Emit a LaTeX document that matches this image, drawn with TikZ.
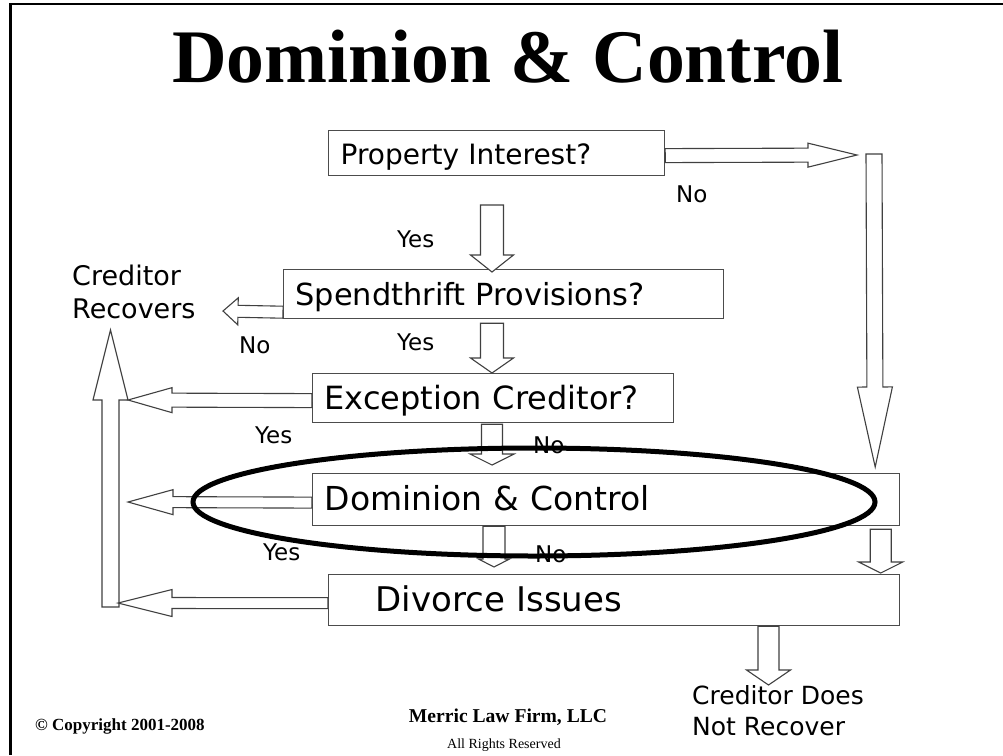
\documentclass[tikz,border=0pt]{standalone}
\usepackage{fontspec}
\usepackage{graphicx}
\setmainfont{DejaVu Sans}
\newfontfamily\serifface{Liberation Serif}
\usetikzlibrary{calc}

% hollow block arrow: tail, tip, shaft width, head width, head length (all in px)
\newcommand\blockarrow[5]{%
  \path let \p1=(#1), \p2=(#2) in \pgfextra{%
    \pgfmathsetmacro\baAngle{atan2(\y2-\y1,\x2-\x1)}%
    \pgfmathsetmacro\baLen{veclen(\x2-\x1,\y2-\y1)}%
    \xdef\baAngle{\baAngle}\xdef\baLen{\baLen}%
    \xdef\baX{\x1}\xdef\baY{\y1}};
  \draw[hollowarrow, shift={(\baX,\baY)}, rotate=\baAngle]
    (0pt,{#3pt/2}) -- ({\baLen pt-#5pt},{#3pt/2}) -- ({\baLen pt-#5pt},{#4pt/2})
    -- ({\baLen pt},0pt) -- ({\baLen pt-#5pt},{-#4pt/2}) -- ({\baLen pt-#5pt},{-#3pt/2})
    -- (0pt,{-#3pt/2}) -- cycle;
}

\begin{document}
\begin{tikzpicture}[x=1pt,y=-1pt,
  flowbox/.style={draw=black!70, line width=1.2pt, fill=white, rectangle,
    inner xsep=12pt, inner ysep=0pt, align=left, text height=22pt,
    text depth=0pt, anchor=north west},
  answer/.style={font=\fontsize{23pt}{23pt}\selectfont, inner sep=0pt, anchor=base west},
  outcome/.style={inner sep=0pt, anchor=base west, align=left},
  hollowarrow/.style={draw=black!75, line width=1.1pt, fill=white, line join=miter},
  ring/.style={draw=black, line width=5pt},
]
\useasboundingbox (0,0) rectangle (1003,755);
\fill[white] (0,0) rectangle (1003,755);
\draw[line width=2.5pt] (10.5,755) -- (10.5,4) -- (1003,4);

% title
\node[anchor=base west, inner sep=0pt] (title) at (172,82)
  {\resizebox{671pt}{!}{\serifface\bfseries\fontsize{75pt}{75pt}\selectfont Dominion \& Control}};

% decision boxes
\node[flowbox, text width=312pt, minimum height=45pt, font=\fontsize{28pt}{28pt}\selectfont]
  (prop) at (328,130) {Property Interest?};
\node[flowbox, text width=416pt, minimum height=49pt, font=\fontsize{30.4pt}{30pt}\selectfont]
  (spend) at (283,269) {Spendthrift Provisions?};
\node[flowbox, text width=337pt, minimum height=49pt, font=\fontsize{32pt}{32pt}\selectfont]
  (exc) at (312,373) {Exception Creditor?};
\node[flowbox, text width=563pt, minimum height=52pt, font=\fontsize{33pt}{33pt}\selectfont]
  (dom) at (312,473) {Dominion \& Control};
\node[flowbox, text width=547pt, minimum height=51pt, font=\fontsize{34pt}{34pt}\selectfont]
  (div) at (328,574) {\hspace*{35pt}Divorce Issues};

% outcomes (anchored at the baseline of the last line)
\node[outcome, font=\fontsize{27pt}{33pt}\selectfont] (recovers) at (72,318) {Creditor\\Recovers};
\node[outcome, font=\fontsize{25pt}{31pt}\selectfont] (norecover) at (692,735) {Creditor Does\\Not Recover};

% free ends of the connectors
\coordinate (pturn) at (857,155);
\coordinate (rtop) at (874,154);
\coordinate (ystart) at (492,205);
\coordinate (crtip) at (223,311);
\coordinate (uptip) at (110.5,330);
\coordinate (upfoot) at (110.5,607);
\coordinate (cdtip) at (768.5,685);

% connectors
\blockarrow{$(prop.east)+(0,2.5)$}{pturn}{14}{24}{49}
\blockarrow{rtop}{$(dom.north east)+(-25,-6)$}{16}{35}{80}
\blockarrow{ystart}{$(spend.north west)+(209,3)$}{23}{43}{17}
\blockarrow{$(spend.south west)+(209,4)$}{$(exc.north west)+(180,0)$}{23}{43}{15}
\blockarrow{$(exc.south west)+(180,1)$}{$(dom.north west)+(180,-8)$}{21}{44}{11}
\blockarrow{$(dom.south west)+(182,0)$}{$(div.north west)+(166,-7)$}{22}{31}{8}
\blockarrow{$(dom.south east)+(-19.5,3)$}{$(div.north east)+(-19.5,-1)$}{21}{44}{11}
\blockarrow{$(div.south west)+(440.5,0)$}{cdtip}{21}{44}{15}
\blockarrow{$(spend.south west)+(0,-7)$}{crtip}{12}{27}{15}
\blockarrow{upfoot}{uptip}{17}{35}{70}
\blockarrow{$(exc.west)+(0,2.5)$}{$(uptip)+(17.5,70)$}{14}{25}{44}
\blockarrow{$(dom.west)+(0,3)$}{$(uptip)+(17.5,172)$}{11}{25}{45}
\blockarrow{$(div.west)+(0,3)$}{$(upfoot)+(7.5,-4)$}{11}{27}{54}

% answers
\node[answer] (no1) at (676,202) {No};
\node[answer] (yes1) at (397,247) {Yes};
\node[answer] (no2) at (239,353) {No};
\node[answer] (yes2) at (397,350) {Yes};
\node[answer] (yes3) at (255,443) {Yes};
\node[answer] (no3) at (533,453) {No};
\node[answer] (yes4) at (263,560) {Yes};
\node[answer] (no4) at (535,562) {No};

% emphasis ring
\draw[ring] (534,502) ellipse [x radius=341pt, y radius=54pt];

% footer
\node[anchor=base west, inner sep=0pt] (copy) at (35,730)
  {\serifface\bfseries\fontsize{17pt}{17pt}\selectfont © Copyright 2001-2008};
\node[anchor=base, inner sep=0pt] (firm) at (508,722)
  {\serifface\bfseries\fontsize{19.6pt}{20pt}\selectfont Merric Law Firm, LLC};
\node[anchor=base, inner sep=0pt] (rights) at (504,748)
  {\serifface\fontsize{14pt}{14pt}\selectfont All Rights Reserved};
\end{tikzpicture}
\end{document}
